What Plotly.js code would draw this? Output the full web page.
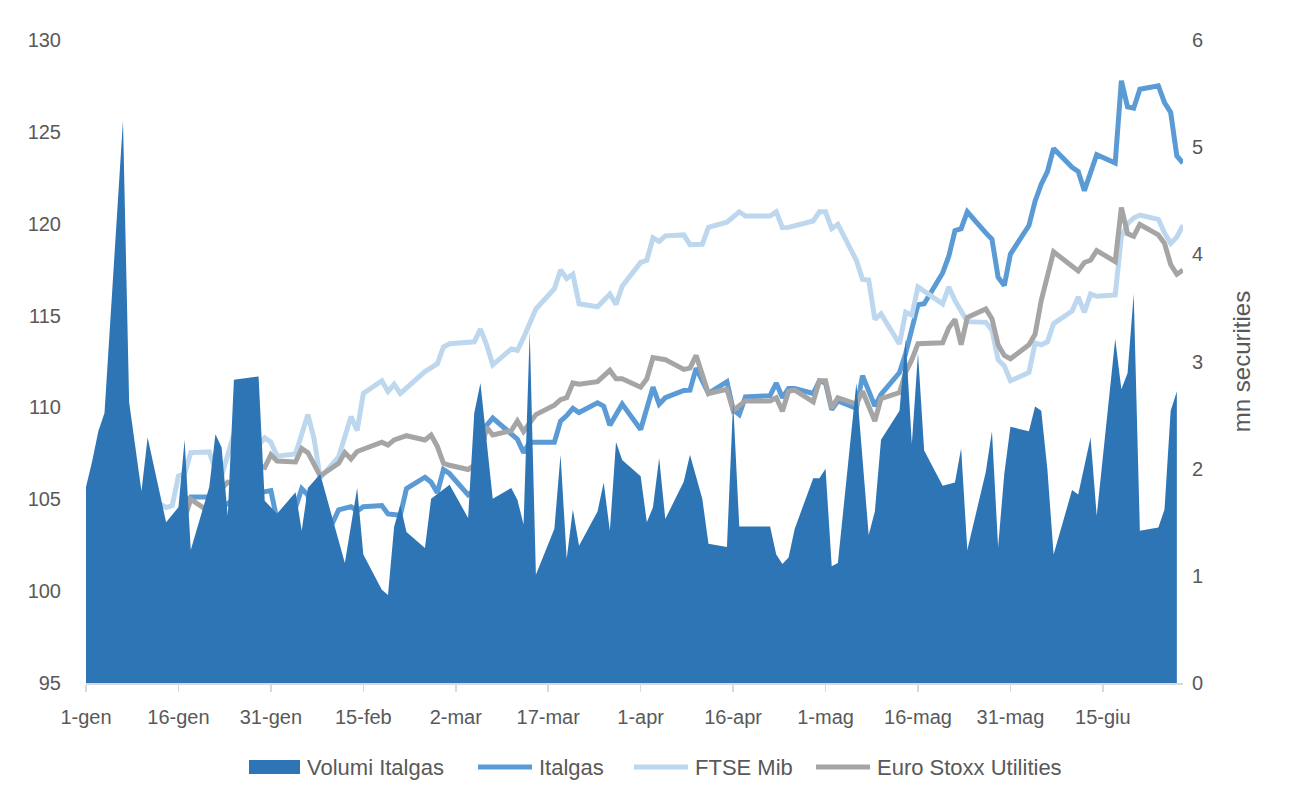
<!DOCTYPE html>
<html>
<head>
<meta charset="utf-8">
<script src="https://cdn.plot.ly/plotly-3.0.1.min.js"></script>
<style>
  html, body { margin: 0; padding: 0; background: #ffffff; }
  #chart { width: 1291px; height: 796px; }
</style>
</head>
<body>
<div id="chart"></div>
<script>
// ---- Data (2019, dates as MM-DD) ----
const volumeDates = ['01-01','01-02','01-03','01-04','01-07','01-08','01-10','01-11','01-14','01-16','01-17','01-18','01-21','01-22','01-23','01-24','01-25','01-28','01-29','01-30','02-01','02-04','02-05','02-06','02-08','02-12','02-14','02-15','02-18','02-19','02-20','02-21','02-22','02-25','02-26','03-01','03-04','03-05','03-06','03-08','03-11','03-12','03-13','03-14','03-15','03-18','03-19','03-20','03-21','03-22','03-25','03-26','03-27','03-28','03-29','04-01','04-02','04-03','04-04','04-05','04-08','04-09','04-11','04-12','04-15','04-16','04-17','04-22','04-23','04-24','04-25','04-26','04-29','04-30','05-01','05-02','05-03','05-06','05-08','05-09','05-10','05-13','05-14','05-15','05-16','05-17','05-20','05-22','05-23','05-24','05-27','05-28','05-29','05-30','05-31','06-03','06-04','06-05','06-06','06-07','06-10','06-11','06-13','06-14','06-17','06-18','06-19','06-20','06-21','06-24','06-25','06-26','06-27'];
const volumeValues = [1.83,2.07,2.35,2.52,5.25,2.62,1.79,2.29,1.50,1.64,2.27,1.24,1.83,2.32,2.20,1.56,2.83,2.85,2.86,1.70,1.58,1.78,1.42,1.82,1.95,1.12,1.82,1.20,0.87,0.82,1.46,1.66,1.41,1.26,1.72,1.85,1.54,2.52,2.80,1.72,1.82,1.71,1.48,3.28,1.01,1.44,2.13,1.16,1.62,1.28,1.60,1.87,1.42,2.25,2.08,1.93,1.50,1.64,2.10,1.53,1.88,2.13,1.72,1.30,1.27,2.62,1.46,1.46,1.20,1.11,1.17,1.44,1.91,1.91,2.00,1.09,1.12,2.80,1.38,1.60,2.27,2.54,3.21,2.23,3.08,2.17,1.84,1.87,2.19,1.24,1.97,2.35,1.27,1.95,2.39,2.35,2.58,2.54,1.99,1.20,1.80,1.76,2.29,1.56,3.21,2.74,2.89,3.63,1.42,1.45,1.62,2.54,2.72];

const italgasDates = ['01-01','01-04','01-07','01-08','01-11','01-14','01-16','01-18','01-21','01-22','01-25','01-28','01-29','01-31','02-01','02-04','02-05','02-06','02-07','02-08','02-11','02-13','02-14','02-15','02-18','02-19','02-21','02-22','02-25','02-26','02-27','02-28','03-01','03-04','03-05','03-06','03-07','03-08','03-12','03-13','03-14','03-18','03-19','03-20','03-21','03-22','03-25','03-26','03-27','03-29','04-01','04-03','04-04','04-05','04-08','04-09','04-10','04-12','04-15','04-16','04-17','04-18','04-22','04-23','04-24','04-25','04-26','04-29','04-30','05-01','05-02','05-03','05-06','05-07','05-09','05-10','05-13','05-14','05-16','05-17','05-20','05-21','05-22','05-23','05-24','05-27','05-28','05-29','05-30','05-31','06-03','06-04','06-05','06-06','06-07','06-10','06-11','06-12','06-14','06-17','06-18','06-19','06-20','06-21','06-24','06-25','06-26','06-27','06-28'];
const italgasValues = [100,103.17,104.2,102.6,104.89,103.28,104.32,105.12,105.12,104.32,105.0,103.28,105.35,105.47,103.86,104.55,105.58,105.24,102.94,102.25,104.43,104.6,104.36,104.6,104.66,104.2,104.13,105.58,106.2,105.93,105.35,106.62,106.39,105.24,105.51,107.31,109.03,109.42,108.27,107.54,108.11,108.11,109.26,109.56,109.95,109.72,110.25,110.07,109.03,110.18,108.8,111.1,110.18,110.53,110.92,110.94,112.14,110.76,111.4,109.88,109.61,110.57,110.64,111.33,110.53,111.03,111.03,110.76,111.45,111.33,109.88,110.35,109.95,111.73,110.07,110.71,111.9,112.94,115.59,115.64,117.32,118.23,119.62,119.73,120.65,119.5,119.16,117.09,116.63,118.35,119.9,121.23,122.15,122.84,124.1,123.07,122.84,121.8,123.76,123.3,127.78,126.36,126.29,127.32,127.51,126.59,126.06,123.69,123.3];

const ftseDates = ['01-01','01-02','01-03','01-04','01-08','01-09','01-10','01-11','01-14','01-15','01-16','01-17','01-18','01-21','01-22','01-23','01-25','01-28','01-30','01-31','02-01','02-04','02-06','02-07','02-08','02-11','02-13','02-14','02-15','02-18','02-19','02-20','02-21','02-25','02-27','02-28','03-01','03-05','03-06','03-07','03-08','03-11','03-12','03-13','03-15','03-18','03-19','03-20','03-21','03-22','03-25','03-27','03-28','03-29','04-01','04-02','04-03','04-04','04-05','04-08','04-09','04-11','04-12','04-15','04-17','04-18','04-22','04-23','04-24','04-25','04-29','04-30','05-01','05-02','05-03','05-06','05-07','05-08','05-09','05-10','05-13','05-14','05-15','05-16','05-20','05-21','05-22','05-24','05-27','05-28','05-29','05-30','05-31','06-03','06-04','06-05','06-06','06-07','06-10','06-11','06-12','06-13','06-14','06-17','06-18','06-19','06-20','06-21','06-24','06-25','06-26','06-27','06-28'];
const ftseValues = [100,99.95,99.37,102.59,103.74,104.7,105.24,105.12,104.55,104.66,106.27,106.39,107.54,107.58,106.62,106.27,108.57,107.54,108.34,108.11,107.35,107.47,109.61,108.3,106.16,107.31,109.5,108.74,110.76,111.45,110.87,111.26,110.76,111.95,112.37,113.29,113.47,113.57,114.26,113.41,112.32,113.18,113.11,113.8,115.36,116.46,117.48,117.02,117.25,115.64,115.48,116.17,115.6,116.6,117.89,118.01,119.23,119.04,119.34,119.39,118.86,118.88,119.8,120.08,120.65,120.42,120.42,120.65,119.78,119.8,120.15,120.65,120.65,119.73,119.96,118.01,116.97,116.93,114.79,115.09,113.45,115.18,115.02,116.56,115.64,116.56,115.82,114.67,114.63,114.21,112.6,112.26,111.45,111.9,113.5,113.41,113.57,114.56,115.25,116.01,115.18,116.17,116.05,116.12,119.3,120.0,120.31,120.47,120.24,119.5,118.93,119.27,119.92];

const stoxxDates = ['01-01','01-02','01-03','01-04','01-07','01-08','01-09','01-10','01-11','01-14','01-15','01-16','01-17','01-18','01-21','01-22','01-23','01-24','01-28','01-29','01-30','01-31','02-01','02-04','02-05','02-06','02-08','02-11','02-12','02-13','02-14','02-18','02-19','02-20','02-22','02-25','02-26','02-27','02-28','03-01','03-04','03-05','03-06','03-07','03-08','03-11','03-12','03-13','03-15','03-18','03-19','03-20','03-21','03-22','03-25','03-27','03-28','03-29','04-01','04-02','04-03','04-05','04-08','04-09','04-10','04-12','04-15','04-16','04-18','04-22','04-23','04-24','04-25','04-26','04-29','04-30','05-01','05-02','05-03','05-06','05-07','05-09','05-10','05-13','05-14','05-15','05-16','05-20','05-21','05-22','05-23','05-24','05-27','05-28','05-29','05-30','05-31','06-03','06-04','06-05','06-07','06-11','06-12','06-13','06-14','06-17','06-18','06-19','06-20','06-21','06-24','06-25','06-26','06-27','06-28'];
const stoxxValues = [100,100.6,100.75,101.8,102.0,102.5,102.25,103.3,102.94,102.6,103.4,103.05,103.97,105.0,104.32,104.55,105.58,105.93,105.35,106.85,106.73,107.42,107.08,107.03,107.77,107.54,106.27,106.96,107.54,107.19,107.6,108.11,107.95,108.23,108.46,108.23,108.5,107.88,106.96,106.85,106.62,106.85,107.54,108.92,108.5,108.73,109.26,108.69,109.61,110.12,110.42,110.53,111.33,111.26,111.4,112.02,111.56,111.56,111.1,111.56,112.71,112.6,112.07,112.14,112.83,110.76,110.99,109.84,110.35,110.35,110.53,109.79,110.88,110.94,110.3,111.45,111.45,109.95,110.53,110.18,110.88,109.26,110.48,110.81,111.91,112.6,113.47,113.52,114.33,114.79,113.41,114.9,115.36,114.83,113.41,112.83,112.65,113.41,113.98,115.82,118.47,117.43,117.89,118.01,118.54,117.94,120.88,119.46,119.32,119.96,119.39,118.93,117.78,117.25,117.48];

const tickDates = ['01-01','01-16','01-31','02-15','03-02','03-17','04-01','04-16','05-01','05-16','05-31','06-15'];
const tickLabels = ['1-gen','16-gen','31-gen','15-feb','2-mar','17-mar','1-apr','16-apr','1-mag','16-mag','31-mag','15-giu'];

const seriesNames = ['Volumi Italgas','Italgas','FTSE Mib','Euro Stoxx Utilities'];
const seriesColors = ['#2E75B6','#5B9BD5','#BDD7EE','#A5A5A5'];
const rightAxisTitle = 'mn securities';

// ---- helpers ----
const YEAR = '2019-';
const toDate = arr => arr.map(s => YEAR + s);

const W = 1291, H = 796;
const M = { l: 86, r: 108, t: 40, b: 113 };
const PW = W - M.l - M.r, PH = H - M.t - M.b;
const px2x = p => (p - M.l) / PW;          // page px -> paper x
const py2y = p => (H - M.b - p) / PH;      // page px -> paper y

const FONT = 'Liberation Sans, Arial, sans-serif';
const TXT = '#595959';
const LW = 5;

const traces = [
  {
    type: 'scatter', mode: 'lines', name: seriesNames[0],
    x: toDate(volumeDates), y: volumeValues, yaxis: 'y2',
    fill: 'tozeroy', fillcolor: seriesColors[0],
    line: { color: seriesColors[0], width: 0 },
    hoverinfo: 'skip'
  },
  {
    type: 'scatter', mode: 'lines', name: seriesNames[1],
    x: toDate(italgasDates), y: italgasValues,
    line: { color: seriesColors[1], width: LW }
  },
  {
    type: 'scatter', mode: 'lines', name: seriesNames[2],
    x: toDate(ftseDates), y: ftseValues,
    line: { color: seriesColors[2], width: LW }
  },
  {
    type: 'scatter', mode: 'lines', name: seriesNames[3],
    x: toDate(stoxxDates), y: stoxxValues,
    line: { color: seriesColors[3], width: LW }
  }
];

// ---- legend (drawn below the plot, Excel style) ----
const legendY = 767;
const legendItems = [
  { kind: 'rect', x0: 249, x1: 300, tx: 305 },
  { kind: 'line', x0: 478, x1: 532, tx: 537 },
  { kind: 'line', x0: 634, x1: 688, tx: 693 },
  { kind: 'line', x0: 816, x1: 870, tx: 875 }
];
const shapes = [];
const annotations = [];
legendItems.forEach((it, i) => {
  if (it.kind === 'rect') {
    shapes.push({ type: 'rect', xref: 'paper', yref: 'paper',
      x0: px2x(it.x0), x1: px2x(it.x1), y0: py2y(legendY + 7), y1: py2y(legendY - 7),
      fillcolor: seriesColors[i], line: { width: 0 } });
  } else {
    shapes.push({ type: 'line', xref: 'paper', yref: 'paper',
      x0: px2x(it.x0), x1: px2x(it.x1), y0: py2y(legendY), y1: py2y(legendY),
      line: { color: seriesColors[i], width: LW } });
  }
  annotations.push({ xref: 'paper', yref: 'paper', x: px2x(it.tx), y: py2y(legendY),
    xanchor: 'left', yanchor: 'middle', showarrow: false, text: seriesNames[i],
    font: { family: FONT, size: 22, color: TXT } });
});

const layout = {
  width: W, height: H,
  margin: { l: M.l, r: M.r, t: M.t, b: M.b, pad: 0 },
  paper_bgcolor: '#ffffff', plot_bgcolor: '#ffffff',
  font: { family: FONT, color: TXT, size: 20 },
  showlegend: false,
  shapes: shapes,
  annotations: annotations,
  xaxis: {
    type: 'date',
    range: [YEAR + '01-01', YEAR + '06-28'],
    tickmode: 'array', tickvals: toDate(tickDates), ticktext: tickLabels,
    showgrid: false, zeroline: false,
    showline: true, linecolor: '#D9D9D9', linewidth: 1.5,
    ticks: 'outside', ticklen: 7, tickcolor: '#D9D9D9', tickwidth: 1.5,
    tickfont: { family: FONT, size: 20, color: TXT },
    ticklabelstandoff: 8,
    fixedrange: true
  },
  yaxis: {
    range: [95, 130], tickmode: 'linear', tick0: 95, dtick: 5,
    showgrid: false, zeroline: false, showline: false, ticks: '',
    tickfont: { family: FONT, size: 20, color: TXT },
    ticklabelstandoff: 24,
    fixedrange: true
  },
  yaxis2: {
    overlaying: 'y', side: 'right',
    range: [0, 6], tickmode: 'linear', tick0: 0, dtick: 1,
    showgrid: false, zeroline: false, showline: false, ticks: '',
    tickfont: { family: FONT, size: 20, color: TXT },
    ticklabelstandoff: 8,
    title: { text: rightAxisTitle, font: { family: FONT, size: 24, color: TXT }, standoff: 31 },
    fixedrange: true
  }
};

Plotly.newPlot('chart', traces, layout, { displayModeBar: false, staticPlot: true });
</script>
</body>
</html>
